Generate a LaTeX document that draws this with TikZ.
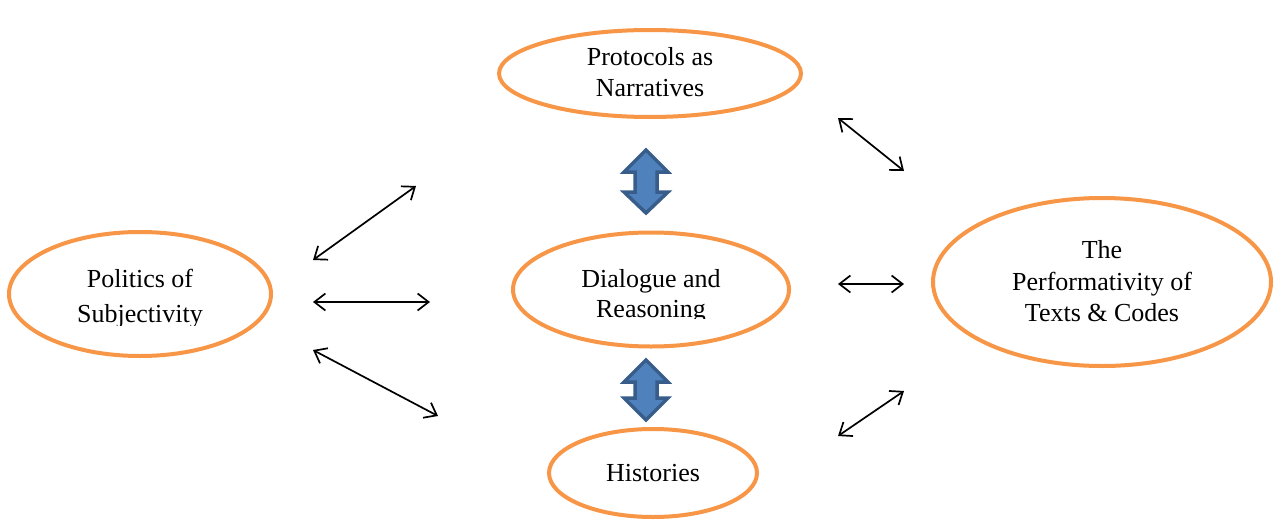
\documentclass[tikz,border=0pt]{standalone}
\usepackage{fontspec}
\setmainfont{Liberation Serif}
\usetikzlibrary{shapes.geometric,arrows.meta}
\definecolor{orng}{HTML}{F79646}
\definecolor{bfill}{HTML}{4F81BD}
\definecolor{bline}{HTML}{385D8A}
\tikzset{
  oval/.style={ellipse, draw=orng, line width=4pt, inner sep=0pt, fill=white},
  txt/.style={anchor=base, inner sep=0pt, font=\fontsize{26}{30}\selectfont},
  link/.style={line width=1.7pt, {Straight Barb[length=11pt,width=17pt]}-{Straight Barb[length=11pt,width=17pt]}},
  blockarrow/.style={fill=bfill, draw=bline, line width=3.5pt, line join=miter}
}
\begin{document}
\begin{tikzpicture}[x=1pt,y=-1pt]
\useasboundingbox (0,0) rectangle (1276,519);
% ellipses
\node[oval, minimum width=302pt, minimum height=87pt] (proto) at (650,73.5) {};
\node[oval, minimum width=276pt, minimum height=114pt] (dial) at (651,289.5) {};
\node[oval, minimum width=262pt, minimum height=124pt] (pol) at (140,294) {};
\node[oval, minimum width=338pt, minimum height=168pt] (perf) at (1102,282) {};
\node[oval, minimum width=208pt, minimum height=88pt] (hist) at (653,473) {};
% texts
\node[txt] (t1) at (650,66) {Protocols as};
\node[txt] (t2) at (650,96) {Narratives};
\begin{scope}
\clip (520,240) rectangle (780,318);
\node[txt] (t3) at (651,287) {Dialogue and};
\node[txt] (t4) at (651,317) {Reasoning};
\end{scope}
\begin{scope}
\clip (20,240) rectangle (260,325);
\node[txt] (t5) at (140,287) {Politics of};
\node[txt] (t6) at (140,322) {Subjectivity};
\end{scope}
\node[txt] (t7) at (1102,258) {The};
\node[txt] (t8) at (1102,290) {Performativity of};
\node[txt] (t9) at (1102,321) {Texts \& Codes};
\node[txt] (t10) at (653,481) {Histories};
% connector endpoints
\coordinate (a1) at (313,260); \coordinate (b1) at (416,186);
\coordinate (a2) at (313,302); \coordinate (b2) at (430,302);
\coordinate (a3) at (313,350); \coordinate (b3) at (438,416);
\coordinate (a4) at (838,118); \coordinate (b4) at (904,171);
\coordinate (a5) at (838,284); \coordinate (b5) at (904,284);
\coordinate (a6) at (838,436); \coordinate (b6) at (904,391);
\draw[link] (a1) -- (b1);
\draw[link] (a2) -- (b2);
\draw[link] (a3) -- (b3);
\draw[link] (a4) -- (b4);
\draw[link] (a5) -- (b5);
\draw[link] (a6) -- (b6);
% block arrows
\draw[blockarrow] (646,150) -- (668,172) -- (657,172) -- (657,192) -- (668,192) -- (646,213) -- (624,192) -- (635,192) -- (635,172) -- (624,172) -- cycle;
\draw[blockarrow] (646,360) -- (668,382) -- (657,382) -- (657,398) -- (668,398) -- (646,420) -- (624,398) -- (635,398) -- (635,382) -- (624,382) -- cycle;
\end{tikzpicture}
\end{document}
